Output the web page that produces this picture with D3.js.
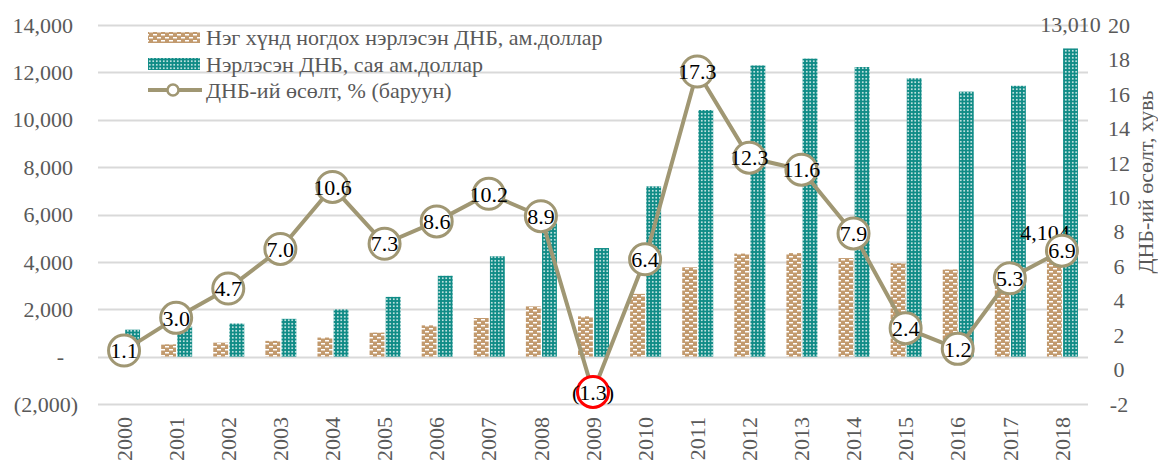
<!DOCTYPE html>
<html>
<head>
<meta charset="utf-8">
<script src="https://cdn.jsdelivr.net/npm/d3@7"></script>
<style>
  body { margin: 0; background: #fff; }
  svg text { font-family: "Liberation Serif", "DejaVu Serif", serif; }
</style>
</head>
<body>
<div id="chart"></div>
<script>
// data
var years = ["2000","2001","2002","2003","2004","2005","2006","2007","2008","2009",
             "2010","2011","2012","2013","2014","2015","2016","2017","2018"];
var gdpPerCapita = [471, 520, 590, 665, 805, 1015, 1320, 1630, 2120, 1700,
                    2650, 3770, 4350, 4370, 4160, 3950, 3680, 3700, 4104];
var gdpTotal = [1137, 1268, 1397, 1595, 1992, 2523, 3414, 4235, 5623, 4584,
                7189, 10410, 12293, 12582, 12227, 11750, 11187, 11434, 13010];
var growth = [1.1, 3.0, 4.7, 7.0, 10.6, 7.3, 8.6, 10.2, 8.9, -1.3,
              6.4, 17.3, 12.3, 11.6, 7.9, 2.4, 1.2, 5.3, 6.9];
var leftTicks = [-2000, 0, 2000, 4000, 6000, 8000, 10000, 12000, 14000];
var rightTicks = [-2, 0, 2, 4, 6, 8, 10, 12, 14, 16, 18, 20];
var legendLabels = ["Нэг хүнд ногдох нэрлэсэн ДНБ, ам.доллар",
                    "Нэрлэсэн ДНБ, сая ам.доллар",
                    "ДНБ-ий өсөлт, % (баруун)"];

var width = 1158, height = 464;
var brown = "#c29a6e", teal = "#0f8b86", lineCol = "#a09773", grey = "#595959";
var fs = 22;

var svg = d3.select("#chart").append("svg")
            .attr("width", width)
            .attr("height", height);

// patterns
var defs = svg.append("defs");
var pb = defs.append("pattern").attr("id", "pBrown")
             .attr("patternUnits", "userSpaceOnUse")
             .attr("width", 8).attr("height", 6);
pb.append("rect").attr("width", 8).attr("height", 6).attr("fill", brown);
pb.append("rect").attr("x", 1).attr("y", 1).attr("width", 4).attr("height", 1.5).attr("fill", "#fff");
pb.append("rect").attr("x", 5).attr("y", 4).attr("width", 3).attr("height", 1.5).attr("fill", "#fff");
pb.append("rect").attr("x", 0).attr("y", 4).attr("width", 1).attr("height", 1.5).attr("fill", "#fff");

var pt = defs.append("pattern").attr("id", "pTeal")
             .attr("patternUnits", "userSpaceOnUse")
             .attr("width", 3.5).attr("height", 3.5);
pt.append("rect").attr("width", 3.5).attr("height", 3.5).attr("fill", teal);
pt.append("rect").attr("x", 1).attr("y", 1).attr("width", 1.5).attr("height", 1.5).attr("fill", "#fff");

// scales
var x = d3.scaleBand().domain(years).range([98, 1088]);
var xSub = d3.scaleBand().domain(["pc", "gdp"]).range([-15, 16]).paddingInner(0.08);
var yL = d3.scaleLinear().domain([-2000, 14000]).range([404, 25]);
var yR = d3.scaleLinear().domain([-2, 20]).range([404, 25]);

// gridlines
svg.append("g").selectAll("line")
   .data(leftTicks).enter().append("line")
   .attr("x1", 98).attr("x2", 1088)
   .attr("y1", function(d) { return Math.round(yL(d)) + 0.5; })
   .attr("y2", function(d) { return Math.round(yL(d)) + 0.5; })
   .attr("stroke", "#d9d9d9").attr("stroke-width", 2);

// left axis
var fmtL = function(d) {
  if (d === 0) return "-";
  if (d < 0) return "(" + d3.format(",")(-d) + ")";
  return d3.format(",")(d);
};
svg.append("g").selectAll("text")
   .data(leftTicks).enter().append("text")
   .attr("x", function(d) { return d < 0 ? 78 : (d === 0 ? 64 : 73); })
   .attr("y", function(d) { return yL(d); })
   .attr("dy", "0.35em")
   .attr("text-anchor", "end")
   .attr("fill", grey).attr("font-size", fs)
   .text(fmtL);

// right axis
svg.append("g").selectAll("text")
   .data(rightTicks).enter().append("text")
   .attr("x", 1119)
   .attr("y", function(d) { return yR(d); })
   .attr("dy", "0.35em")
   .attr("text-anchor", "middle")
   .attr("fill", grey).attr("font-size", fs)
   .text(function(d) { return d; });

svg.append("text")
   .attr("transform", "translate(1145," + 182 + ") rotate(-90)")
   .attr("text-anchor", "middle")
   .attr("dy", "0.35em")
   .attr("fill", grey).attr("font-size", fs)
   .text("ДНБ-ий өсөлт, хувь");

// x axis labels
svg.append("g").selectAll("text")
   .data(years).enter().append("text")
   .attr("transform", function(d) {
     return "translate(" + (x(d) + x.bandwidth() / 2) + ",417) rotate(-90)";
   })
   .attr("text-anchor", "end")
   .attr("dy", "0.35em")
   .attr("fill", grey).attr("font-size", fs)
   .text(function(d) { return d; });

// bars
var bars = svg.append("g");
bars.selectAll("rect.pc")
    .data(gdpPerCapita).enter().append("rect")
    .attr("class", "pc")
    .attr("x", function(d, i) { return x(years[i]) + x.bandwidth() / 2 + xSub("pc"); })
    .attr("width", xSub.bandwidth())
    .attr("y", function(d) { return yL(d); })
    .attr("height", function(d) { return yL(0) - yL(d); })
    .attr("fill", "url(#pBrown)");
bars.selectAll("rect.gdp")
    .data(gdpTotal).enter().append("rect")
    .attr("class", "gdp")
    .attr("x", function(d, i) { return x(years[i]) + x.bandwidth() / 2 + xSub("gdp"); })
    .attr("width", xSub.bandwidth())
    .attr("y", function(d) { return yL(d); })
    .attr("height", function(d) { return yL(0) - yL(d); })
    .attr("fill", "url(#pTeal)");

// bar labels for last year
var last = years.length - 1;
svg.append("text")
   .attr("x", x(years[last]) + x.bandwidth() / 2 + xSub("gdp") + xSub.bandwidth() / 2)
   .attr("y", yL(gdpTotal[last]) - 24)
   .attr("dy", "0.35em")
   .attr("text-anchor", "middle")
   .attr("fill", grey).attr("font-size", fs)
   .text(d3.format(",")(gdpTotal[last]));
svg.append("text")
   .attr("x", x(years[last]) + x.bandwidth() / 2 + xSub("pc") - 2)
   .attr("y", yL(gdpPerCapita[last]) - 27)
   .attr("dy", "0.35em")
   .attr("text-anchor", "middle")
   .attr("fill", "#000").attr("font-size", fs)
   .text(d3.format(",")(gdpPerCapita[last]));

// growth line
var line = d3.line()
             .x(function(d, i) { return x(years[i]) + x.bandwidth() / 2; })
             .y(function(d) { return yR(d); });
svg.append("path")
   .datum(growth)
   .attr("d", line)
   .attr("fill", "none")
   .attr("stroke", lineCol)
   .attr("stroke-width", 4)
   .attr("stroke-linejoin", "round");

var pts = svg.append("g").selectAll("g")
             .data(growth).enter().append("g")
             .attr("transform", function(d, i) {
               return "translate(" + (x(years[i]) + x.bandwidth() / 2) + "," + yR(d) + ")";
             });
pts.append("circle")
   .attr("r", 15.5)
   .attr("fill", "#fff")
   .attr("stroke", function(d) { return d < 0 ? "#ff0000" : lineCol; })
   .attr("stroke-width", 3);
pts.append("text")
   .attr("text-anchor", "middle")
   .attr("dy", "0.35em")
   .attr("fill", "#000").attr("font-size", fs)
   .text(function(d) { return d < 0 ? "(" + d3.format(".1f")(-d) + ")" : d3.format(".1f")(d); });

// legend
var lg = svg.append("g").attr("transform", "translate(148,0)");
var rowY = [37, 64, 90];
lg.append("rect").attr("x", 0).attr("y", rowY[0] - 5).attr("width", 52).attr("height", 11)
  .attr("fill", "url(#pBrown)");
lg.append("rect").attr("x", 0).attr("y", rowY[1] - 6).attr("width", 52).attr("height", 12)
  .attr("fill", "url(#pTeal)");
lg.append("line").attr("x1", 0).attr("x2", 54).attr("y1", rowY[2]).attr("y2", rowY[2])
  .attr("stroke", lineCol).attr("stroke-width", 4);
lg.append("circle").attr("cx", 25).attr("cy", rowY[2]).attr("r", 5.5)
  .attr("fill", "#fff").attr("stroke", lineCol).attr("stroke-width", 2.5);
lg.selectAll("text.lab")
  .data(legendLabels).enter().append("text")
  .attr("class", "lab")
  .attr("x", 58)
  .attr("y", function(d, i) { return rowY[i]; })
  .attr("dy", "0.35em")
  .attr("fill", grey).attr("font-size", fs)
  .text(function(d) { return d; });
</script>
</body>
</html>
